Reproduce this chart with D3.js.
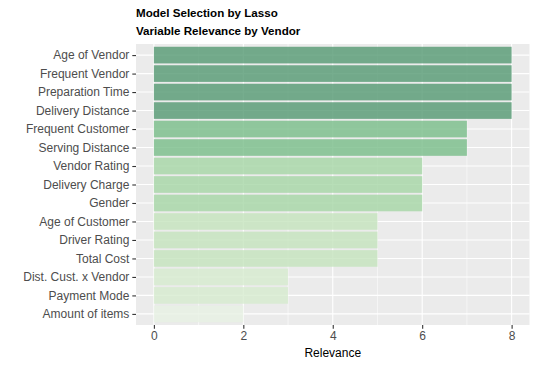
<!DOCTYPE html>
<html><head><meta charset="utf-8">
<script src="https://cdn.jsdelivr.net/npm/d3@7"></script>
<style>body{margin:0;background:#fff}svg{display:block}text{font-family:"Liberation Sans",Arial,sans-serif}</style>
</head><body>
<svg id="c" width="537" height="366"></svg>
<script>
const categories = ["Age of Vendor","Frequent Vendor","Preparation Time","Delivery Distance","Frequent Customer","Serving Distance","Vendor Rating","Delivery Charge","Gender","Age of Customer","Driver Rating","Total Cost","Dist. Cust. x Vendor","Payment Mode","Amount of items"];
const relevance = [8,8,8,8,7,7,6,6,6,5,5,5,3,3,2];
const xTicks = [0,2,4,6,8];
const fillLevels = [2,3,5,6,7,8];
const fillColors = ["#E7F1E4","#D6EBCE","#C4E3BD","#A5D6A5","#78BD88","#549872"];
const title = "Model Selection by Lasso";
const subtitle = "Variable Relevance by Vendor";
const xTitle = "Relevance";

const svg = d3.select("#c");
const L = 136, R = 529.5, T = 44, B = 325;
const x = d3.scaleLinear().domain([-0.4, 8.4]).range([L, R]);
const n = categories.length;
const step = (B - T) / (n - 1 + 1.2);
const y = d3.scalePoint().domain(categories).range([T + 0.6*step, B - 0.6*step]);
const color = d3.scaleOrdinal().domain(fillLevels).range(fillColors);

svg.append("rect").attr("x", L).attr("y", T).attr("width", R - L).attr("height", B - T).attr("fill", "#EBEBEB");
const g = svg.append("g");
[1,3,5,7].forEach(v => g.append("line").attr("x1", x(v)).attr("x2", x(v)).attr("y1", T).attr("y2", B).attr("stroke", "#fff").attr("stroke-width", 0.55));
xTicks.forEach(v => g.append("line").attr("x1", x(v)).attr("x2", x(v)).attr("y1", T).attr("y2", B).attr("stroke", "#fff").attr("stroke-width", 1.1));
categories.forEach(c => g.append("line").attr("x1", L).attr("x2", R).attr("y1", y(c)).attr("y2", y(c)).attr("stroke", "#fff").attr("stroke-width", 1.1));

svg.append("g").selectAll("rect").data(categories).join("rect")
  .attr("x", x(0))
  .attr("y", d => y(d) - 0.45*step)
  .attr("width", (d, i) => x(relevance[i]) - x(0))
  .attr("height", 0.9*step)
  .attr("fill", (d, i) => color(relevance[i]))
  .attr("fill-opacity", 0.8);

// y axis
const ya = svg.append("g").attr("transform", `translate(${L},0)`)
  .call(d3.axisLeft(y).tickSize(3.7).tickPadding(3));
ya.select(".domain").remove();
ya.selectAll("line").attr("stroke", "#333").attr("stroke-width", 1.1);
ya.selectAll("text").attr("fill", "#4D4D4D").style("font-size", "12px");

// x axis
const xa = svg.append("g").attr("transform", `translate(0,${B})`)
  .call(d3.axisBottom(x).tickValues(xTicks).tickSize(3.7).tickPadding(3));
xa.select(".domain").remove();
xa.selectAll("line").attr("stroke", "#333").attr("stroke-width", 1.1);
xa.selectAll("text").attr("fill", "#4D4D4D").style("font-size", "12px");

svg.append("text").attr("x", (L + R) / 2).attr("y", 357).attr("text-anchor", "middle")
  .style("font-size", "12px").attr("fill", "#000").text(xTitle);
svg.append("text").attr("x", L).attr("y", 17).style("font-size", "11.6px").style("font-weight", "bold").attr("fill", "#000").text(title);
svg.append("text").attr("x", L).attr("y", 35).style("font-size", "11.6px").style("font-weight", "bold").attr("fill", "#000").text(subtitle);
</script>
</body></html>
